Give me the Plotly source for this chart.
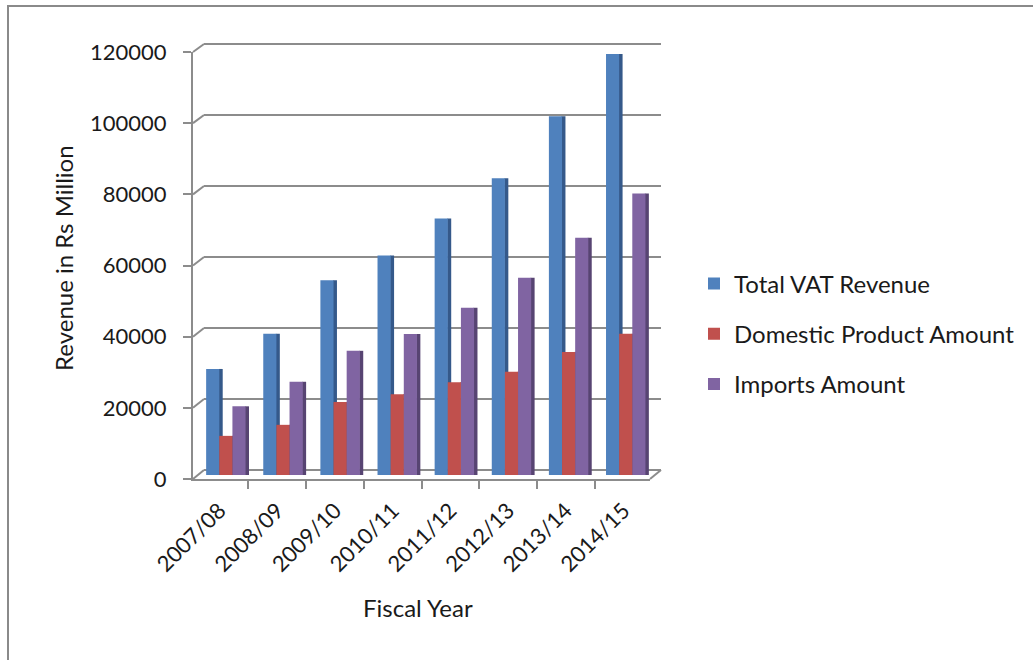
import plotly.graph_objects as go

years = ["2007/08", "2008/09", "2009/10", "2010/11", "2011/12", "2012/13", "2013/14", "2014/15"]
total_vat = [29800, 39700, 54700, 61700, 72100, 83400, 100800, 118300]
domestic = [11000, 14100, 20500, 22700, 26100, 29000, 34600, 39700]
imports = [19300, 26200, 34900, 39600, 47000, 55400, 66700, 79100]
y_ticks = [0, 20000, 40000, 60000, 80000, 100000, 120000]

W, H = 1033, 660
GRID = "#8c8c8c"
FONT = "Lato"
TXT = "#1a1a1a"
YMAX = 120000

# pixel geometry
fx0, fx1, fy_top, fy_bot = 193, 650, 52, 479       # front axes (ticks + labels)
mx0, mx1, my_top, my_bot = 197, 654, 48, 475       # mid-depth plane where the bars stand
bx0, bx1, by_top, by_bot = 204, 661, 44, 470       # back wall (gridlines)
PAD = 1500                                          # keep edge gridlines visible

def px(x):
    return x / W

def py(y):
    return 1 - y / H

back_scale = (by_bot - by_top) / YMAX
pad_px = PAD * back_scale

fig = go.Figure()
# invisible helper so that the back-wall subplot is drawn
fig.add_trace(go.Scatter(x=[0] * len(y_ticks), y=y_ticks, mode="markers",
                         marker=dict(opacity=0), showlegend=False, hoverinfo="skip",
                         xaxis="x", yaxis="y"))
# invisible helper for the front axes
fig.add_trace(go.Scatter(x=years, y=[0] * len(years), mode="markers",
                         marker=dict(opacity=0), showlegend=False, hoverinfo="skip",
                         xaxis="x2", yaxis="y2"))

series = [
    ("Total VAT Revenue", total_vat, "#4F81BD", "#35598A", -0.34),
    ("Domestic Product Amount", domestic, "#C0504D", "#8A3533", -0.11),
    ("Imports Amount", imports, "#8064A2", "#574472", 0.12),
]
BW, SW = 0.23, 0.07
for i, (name, vals, c, dark, off) in enumerate(series):
    # darker side face
    fig.add_trace(go.Bar(x=years, y=vals, name=name, legendgroup=f"g{i}", showlegend=False,
                         width=SW, offset=off + BW - 0.01, marker=dict(color=dark, line=dict(width=0)),
                         hoverinfo="skip", xaxis="x3", yaxis="y3"))
    # front face
    fig.add_trace(go.Bar(x=years, y=vals, name=name, legendgroup=f"g{i}",
                         width=BW, offset=off, marker=dict(color=c, line=dict(width=0)),
                         xaxis="x3", yaxis="y3"))

# diagonal connectors between front y-axis ticks and the back wall gridlines
shapes = []
front_scale = (fy_bot - fy_top) / YMAX
for v in y_ticks:
    yf = fy_bot - v * front_scale
    yb = by_bot - v * back_scale
    shapes.append(dict(type="line", xref="paper", yref="paper",
                       x0=px(fx0), y0=py(yf), x1=px(bx0), y1=py(yb),
                       line=dict(color=GRID, width=2)))
# floor right edge
shapes.append(dict(type="line", xref="paper", yref="paper",
                   x0=px(fx1), y0=py(fy_bot), x1=px(bx1), y1=py(by_bot),
                   line=dict(color=GRID, width=2)))
# outer chart frame
shapes.append(dict(type="rect", xref="paper", yref="paper", x0=px(8), x1=px(1040),
                   y0=py(670), y1=py(6), line=dict(color="#8a8a8a", width=2),
                   fillcolor="rgba(0,0,0,0)", layer="below"))

hidden = dict(showgrid=False, showticklabels=False, zeroline=False, showline=False,
              ticks="", automargin=False)

fig.update_layout(
    width=W, height=H,
    margin=dict(l=0, r=0, t=0, b=0, autoexpand=False),
    paper_bgcolor="white", plot_bgcolor="rgba(0,0,0,0)",
    font=dict(family=FONT, size=22, color=TXT),
    barmode="overlay",
    showlegend=True,
    legend=dict(x=px(694), y=py(334), xanchor="left", yanchor="middle",
                font=dict(size=24, family=FONT, color=TXT), traceorder="grouped",
                tracegroupgap=16, itemwidth=30, bgcolor="rgba(0,0,0,0)"),
    # back wall axes (gridlines only)
    xaxis=dict(domain=[px(bx0), px(bx1)], anchor="y", range=[-0.5, 7.5], type="linear", **hidden),
    yaxis=dict(domain=[py(by_bot + pad_px), py(by_top - pad_px)], anchor="x",
               range=[-PAD, YMAX + PAD],
               tickvals=y_ticks, showgrid=True, gridcolor=GRID, gridwidth=2,
               showticklabels=False, zeroline=False, showline=False, ticks="",
               automargin=False),
    # front axes
    xaxis2=dict(domain=[px(fx0), px(fx1)], anchor="y2", type="category",
                categoryorder="array", categoryarray=years,
                showgrid=False, showline=True, linecolor=GRID, linewidth=2,
                ticks="outside", ticklen=8, tickwidth=2, tickcolor=GRID, tickson="boundaries",
                tickangle=-45, ticklabelstandoff=8,
                tickfont=dict(size=22, family=FONT, color=TXT),
                automargin=False),
    yaxis2=dict(domain=[py(fy_bot), py(fy_top)], anchor="x2", range=[0, YMAX],
                tickvals=y_ticks, ticktext=[str(v) for v in y_ticks],
                showgrid=False, zeroline=False, showline=True, linecolor=GRID, linewidth=2,
                ticks="outside", ticklen=8, tickwidth=2, tickcolor=GRID, ticklabelstandoff=12,
                tickfont=dict(size=22, family=FONT, color=TXT),
                automargin=False),
    # bar plane axes (hidden)
    xaxis3=dict(domain=[px(mx0), px(mx1)], anchor="y3", type="category",
                categoryorder="array", categoryarray=years, range=[-0.5, 7.5], **hidden),
    yaxis3=dict(domain=[py(my_bot), py(my_top)], anchor="x3", range=[0, YMAX], **hidden),
    annotations=[
        dict(text="Fiscal Year", xref="paper", yref="paper", x=px(418), y=py(607),
             showarrow=False, xanchor="center", yanchor="middle",
             font=dict(size=24, family=FONT, color=TXT)),
        dict(text="Revenue in Rs Million", xref="paper", yref="paper", x=px(63), y=py(258),
             showarrow=False, xanchor="center", yanchor="middle", textangle=-90,
             font=dict(size=24, family=FONT, color=TXT)),
    ],
    shapes=shapes,
)

fig.write_html("out.html")
